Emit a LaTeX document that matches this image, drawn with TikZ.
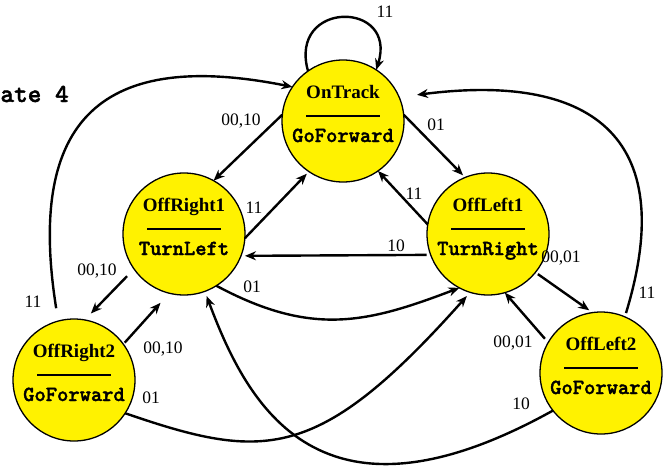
\documentclass[tikz,border=0pt]{standalone}
\usepackage{fontspec}
\setmainfont{Liberation Serif}
\newfontfamily\courb{lmmonolt10-bold.otf}[FakeBold=1.6]
\usetikzlibrary{arrows.meta,calc}
\newcommand{\fsmstate}[5]{%
  \node[stat] (#1) at (#2,#3) {};
  \node[ttl] (#1-t) at ($(#1)+(0,-23)$) {#4};
  \coordinate (#1-l) at ($(#1)+(-37,-5)$);
  \coordinate (#1-r) at ($(#1)+(37,-5)$);
  \draw[seprule] (#1-l) -- (#1-r);
  \node[act] (#1-a) at ($(#1)+(0,21)$) {#5};}
\begin{document}
\begin{tikzpicture}[x=1pt,y=-1pt,
  stat/.style={circle,draw=black,line width=1.3pt,fill=yellow,minimum size=122pt,inner sep=0pt,outer sep=0pt},
  ttl/.style={anchor=base,inner sep=0pt,font=\fontsize{19}{21}\selectfont\bfseries},
  act/.style={anchor=base,inner sep=0pt,font=\courb\fontsize{21.5}{22}\selectfont},
  lbl/.style={inner sep=0pt,text depth=0pt,font=\fontsize{17.5}{20}\selectfont},
  conn/.style={line width=2.4pt,-{Stealth[length=11pt,width=9pt,inset=3.5pt]}},
  seprule/.style={line width=2.4pt}]
\useasboundingbox (0,0) rectangle (668,469);

\node[anchor=base west,inner sep=0pt,font=\courb\fontsize{26}{28}\selectfont] (st) at (-27,102) {State 4};

\fsmstate{OT}{343}{121}{OnTrack}{GoForward}
\fsmstate{R1}{184}{234}{OffRight1}{TurnLeft}
\fsmstate{L1}{488}{234}{OffLeft1}{TurnRight}
\fsmstate{R2}{74}{380}{OffRight2}{GoForward}
\fsmstate{L2}{601}{373}{OffLeft2}{GoForward}

% connectors
\draw[conn] (OT.125) .. controls (288,0) and (398,0) .. (OT.57);
\draw[conn] (OT.174) -- (R1.61);
\draw[conn,shorten >=3pt] (OT.6) -- (L1.112);
\draw[conn,shorten >=3pt] (R1.356) -- (OT.236);
\draw[conn] (L1.171) -- (OT.305);
\draw[conn,shorten <=4pt,shorten >=4pt] (L1.200) -- (R1.339);
\draw[conn,shorten <=10pt,shorten >=9pt] (R1.215) -- (R2.80);
\draw[conn,shorten <=2pt,shorten >=13pt] (R2.36) -- (R1.256);
\draw[conn,shorten <=3pt,shorten >=4pt] (L1.321) -- (L2.98);
\draw[conn,shorten <=5pt] (L2.150) -- (L1.286);
\draw[conn] (R1.302) .. controls (312,337) and (367,323) .. (L1.242);
\draw[conn,shorten >=5pt] (R2.327) .. controls (264,461) and (318,463) .. (L1.253);
\draw[conn,shorten >=5pt] (L2.218) .. controls (320,540) and (248,407) .. (R1.290);
\draw[conn,shorten <=4pt,shorten >=18pt] (L2.67) .. controls (681,133) and (587,73) .. (OT.23);
\draw[conn,shorten <=13pt] (R2.105) .. controls (26,118) and (103,49) .. (OT.146);

% labels
\node[lbl] (la) at (385,12) {11};
\node[lbl] (lb) at (241,120) {00,10};
\node[lbl] (lc) at (436,125) {01};
\node[lbl] (ld) at (254,208) {11};
\node[lbl] (le) at (414,194) {11};
\node[lbl] (lf) at (396,246) {10};
\node[lbl] (lg) at (97,270) {00,10};
\node[lbl] (lh) at (252,287) {01};
\node[lbl] (li) at (561,257) {00,01};
\node[lbl] (lj) at (647,293) {11};
\node[lbl] (lk) at (33,302) {11};
\node[lbl] (ll) at (163,348) {00,10};
\node[lbl] (lm) at (151,398) {01};
\node[lbl] (ln) at (513,342) {00,01};
\node[lbl] (lo) at (521,404) {10};
\end{tikzpicture}
\end{document}
